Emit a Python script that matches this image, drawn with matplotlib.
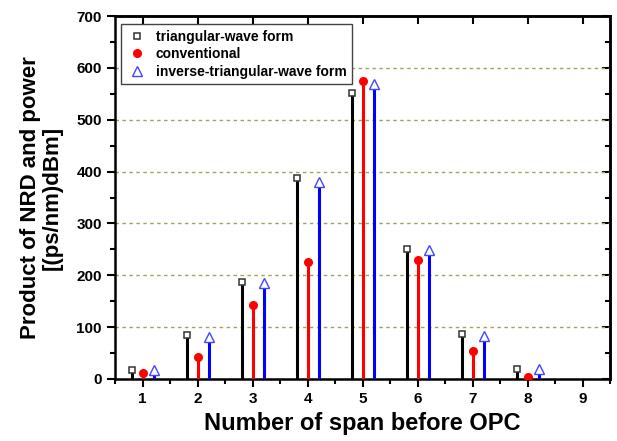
import matplotlib

matplotlib.use("Agg")
import matplotlib.pyplot as plt
import numpy as np
from matplotlib.ticker import MultipleLocator

plt.rcParams["font.family"] = ["Liberation Sans", "DejaVu Sans"]
plt.rcParams["font.weight"] = "bold"

spans = np.array([1, 2, 3, 4, 5, 6, 7, 8])
triangular = [18, 84, 187, 387, 551, 250, 86, 20]
conventional = [11, 43, 142, 226, 575, 230, 54, 3]
inverse_triangular = [17, 81, 185, 379, 569, 248, 83, 19]

OFFSET = 0.2
GRID_COLOR = "#a3a35c"

fig = plt.figure(figsize=(6.17, 4.41), dpi=100)
ax = fig.add_axes([0.1864, 0.1406, 0.8023, 0.8231])

series = [
    (spans - OFFSET, triangular, "black", dict(marker="s", ms=5, mfc="white", mec="#333333", mew=1.1),
     "triangular-wave form"),
    (spans, conventional, "red", dict(marker="o", ms=5.5, mfc="red", mec="red", mew=1),
     "conventional"),
    (spans + OFFSET, inverse_triangular, "blue", dict(marker="^", ms=7, mfc="white", mec="#4444ff", mew=1.0),
     "inverse-triangular-wave form"),
]
for x, y, color, mk, label in series:
    ax.vlines(x, 0, y, colors=color, lw=2.2, zorder=3)
    ax.plot(x, y, ls="none", zorder=4, label=label, **mk)

ax.set_xlim(0.5, 9.5)
ax.set_ylim(0, 700)
ax.xaxis.set_major_locator(MultipleLocator(1))
ax.xaxis.set_minor_locator(MultipleLocator(0.5))
ax.yaxis.set_major_locator(MultipleLocator(100))
ax.yaxis.set_minor_locator(MultipleLocator(50))
ax.yaxis.grid(True, which="major", color=GRID_COLOR, ls=(0, (2.5, 2.5)), lw=1.0)
ax.set_axisbelow(True)

for side in ax.spines.values():
    side.set_linewidth(1.8)
ax.tick_params(which="major", direction="out", length=6, width=1.5, labelsize=11)
ax.tick_params(which="minor", direction="out", length=3.5, width=1.5)
for lbl in ax.get_xticklabels() + ax.get_yticklabels():
    lbl.set_fontweight("bold")

# mirrored ticks pointing inward on top and right
top = ax.secondary_xaxis("top")
top.xaxis.set_major_locator(MultipleLocator(1))
top.tick_params(direction="in", length=6, width=1.5, labeltop=False)
top.spines["top"].set_linewidth(1.8)
right = ax.secondary_yaxis("right")
right.yaxis.set_major_locator(MultipleLocator(100))
right.yaxis.set_minor_locator(MultipleLocator(50))
right.tick_params(which="major", direction="in", length=6, width=1.5, labelright=False)
right.tick_params(which="minor", direction="in", length=3.5, width=1.5)
right.spines["right"].set_linewidth(1.8)

ax.set_xlabel("Number of span before OPC", fontsize=17, fontweight="bold", labelpad=4)
ax.set_ylabel("Product of NRD and power\n[(ps/nm)dBm]", fontsize=16, fontweight="bold",
              labelpad=10, linespacing=1.05)

leg = ax.legend(loc="upper left", bbox_to_anchor=(-0.002, 0.997), frameon=True, fancybox=False,
                edgecolor="#444444", framealpha=1, prop={"size": 10, "weight": "bold"},
                handletextpad=0.6, borderpad=0.4, labelspacing=0.25, handlelength=1.5)
leg.get_frame().set_linewidth(1.0)

fig.savefig("out.png", dpi=100)
